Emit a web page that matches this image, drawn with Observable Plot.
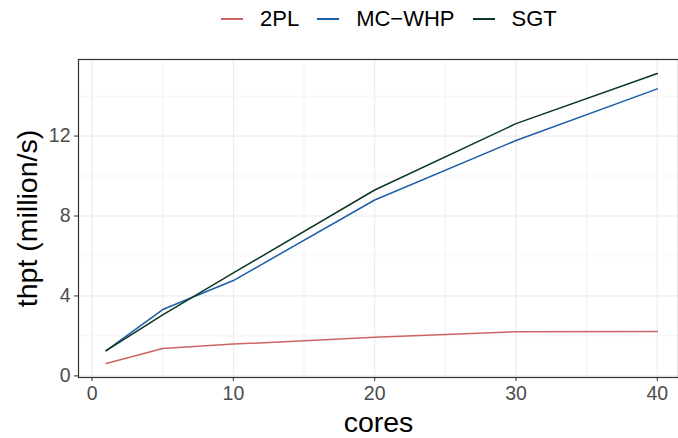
<!DOCTYPE html>
<html>
<head>
<meta charset="utf-8">
<script src="https://cdn.jsdelivr.net/npm/d3@7"></script>
<script src="https://cdn.jsdelivr.net/npm/@observablehq/plot@0.6"></script>
<style>
  html, body { margin: 0; padding: 0; background: #fff; overflow: hidden; }
  body { width: 678px; height: 438px; font-family: "Liberation Sans", Arial, sans-serif; }
  #legend { height: 38px; display: flex; align-items: center; padding-left: 221px; box-sizing: border-box; font-size: 22px; color: #000; }
  .item { display: flex; align-items: center; margin-right: 18px; }
  .key { width: 22px; height: 2px; margin-right: 17px; }
  svg { display: block; }
</style>
</head>
<body>
<div id="legend"></div>
<div id="chart"></div>
<script>
const cores = [1, 5, 10, 20, 30, 40];
const series = ["2PL", "MC\u2212WHP", "SGT"];
const colors = ["#cd6464", "#1c5ea8", "#0c3522"];
const thpt2PL   = [0.62, 1.37, 1.59, 1.93, 2.21, 2.22];
const thptMCWHP = [1.26, 3.32, 4.77, 8.80, 11.78, 14.36];
const thptSGT   = [1.26, 3.05, 5.15, 9.30, 12.62, 15.13];
const xTicks = [0, 10, 20, 30, 40];
const xMinor = [5, 15, 25, 35];
const yTicks = [0, 4, 8, 12];
const yMinor = [2, 6, 10, 14];

const values = [thpt2PL, thptMCWHP, thptSGT];
const data = series.flatMap((s, i) => cores.map((c, j) => ({series: s, cores: c, thpt: values[i][j]})));

const legend = document.getElementById("legend");
series.forEach((s, i) => {
  const item = document.createElement("div");
  item.className = "item";
  const key = document.createElement("span");
  key.className = "key";
  key.style.background = colors[i];
  const lab = document.createElement("span");
  lab.textContent = s;
  item.appendChild(key); item.appendChild(lab);
  legend.appendChild(item);
});

const chart = Plot.plot({
  width: 678,
  height: 400,
  marginTop: 21,
  marginBottom: 61,
  marginLeft: 78,
  marginRight: 0,
  style: {fontFamily: "'Liberation Sans', Arial, sans-serif", fontSize: "19.5px", background: "#fff"},
  x: {domain: [-0.96, 41.5]},
  y: {domain: [-0.08, 15.83]},
  color: {domain: series, range: colors},
  marks: [
    Plot.ruleX(xMinor, {stroke: "#ebebeb", strokeWidth: 0.6}),
    Plot.ruleY(yMinor, {stroke: "#ebebeb", strokeWidth: 0.6}),
    Plot.ruleX(xTicks, {stroke: "#ebebeb", strokeWidth: 1.2}),
    Plot.ruleY(yTicks, {stroke: "#ebebeb", strokeWidth: 1.2}),
    Plot.line(data, {x: "cores", y: "thpt", z: "series", stroke: "series", strokeWidth: 1.5}),
    Plot.frame({stroke: "#333", strokeWidth: 1.2}),
    Plot.axisX({ticks: xTicks, tickSize: 4, tickPadding: 5, stroke: "#333", fill: "#4d4d4d", label: null, fontSize: 19.5}),
    Plot.axisY({ticks: yTicks, tickSize: 4, tickPadding: 4, stroke: "#333", fill: "#4d4d4d", label: null, fontSize: 19.5, tickFormat: d => String(d)}),
    Plot.text(["cores"], {frameAnchor: "bottom", lineAnchor: "middle", textAnchor: "middle", dy: 45, fontSize: 28.5, fill: "#000"}),
    Plot.text(["thpt (million/s)"], {frameAnchor: "left", lineAnchor: "middle", textAnchor: "middle", dx: -51, rotate: -90, fontSize: 28.5, fill: "#000"})
  ]
});
document.getElementById("chart").appendChild(chart);
</script>
</body>
</html>
